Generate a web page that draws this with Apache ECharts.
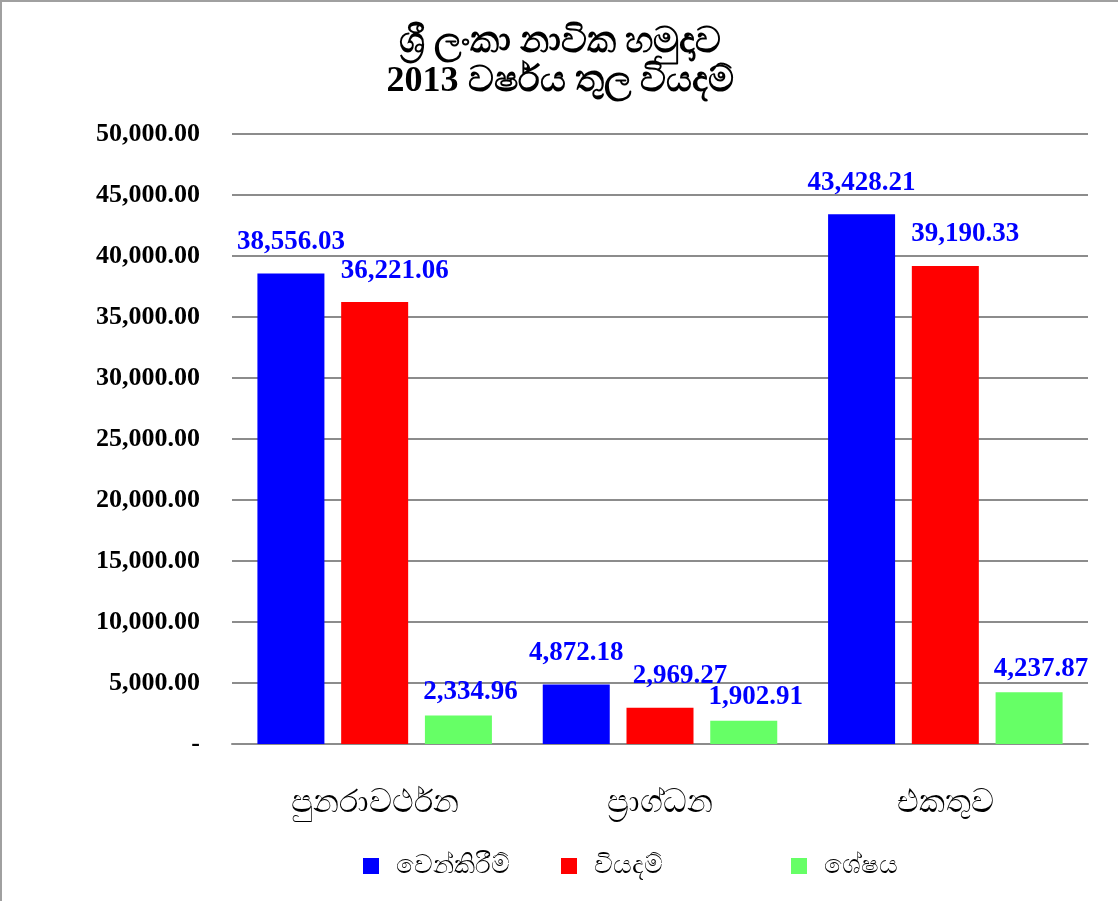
<!DOCTYPE html>
<html>
<head>
<meta charset="utf-8">
<script src="https://cdn.jsdelivr.net/npm/echarts@6/dist/echarts.min.js"></script>
<style>
  html, body { margin: 0; padding: 0; background: #fff; }
  #chart { width: 1118px; height: 901px; box-sizing: border-box; border-top: 2px solid #a0a0a0; border-left: 2px solid #a0a0a0; }
</style>
</head>
<body>
<div id="chart"></div>
<script>
// වර්ග
const categories = ["පුනරාවර්ථන", "ප්‍රාග්ධන", "එකතුව"];
// දත්ත
const allocation = [38556.03, 4872.18, 43428.21];
const expenditure = [36221.06, 2969.27, 39190.33];
const balance = [2334.96, 1902.91, 4237.87];
const seriesNames = ["වෙන්කිරීම්", "වියදම්", "ශේෂය"];
const seriesColors = ["#0000ff", "#ff0000", "#66ff66"];

const serif = "'Liberation Serif', 'Times New Roman', serif";

function fmt(v) {
  if (v === 0) return "-";
  return v.toLocaleString("en-US", { minimumFractionDigits: 2, maximumFractionDigits: 2 });
}

const chart = echarts.init(document.getElementById("chart"));

function makeSeries(name, data, color, shift) {
  return {
    name: name,
    type: "bar",
    data: data,
    barWidth: 67,
    barGap: "25%",
    itemStyle: { color: color },
    label: {
      show: true,
      position: "top",
      distance: 18,
      offset: shift,
      color: "#0000ff",
      fontFamily: serif,
      fontWeight: "bold",
      fontSize: 27,
      formatter: p => fmt(p.value)
    }
  };
}

const legendText = { fontFamily: serif, fontSize: 26, color: "#000", padding: [0, 0, 0, 12] };

chart.setOption({
  animation: false,
  title: {
    text: "ශ්‍රී ලංකා නාවික හමුදාව\n2013 වර්ෂය තුල වියදම්",
    left: "center",
    top: 16,
    textStyle: { fontFamily: serif, fontWeight: "bold", fontSize: 36, lineHeight: 39, color: "#000" }
  },
  legend: [
    { data: [seriesNames[0]], left: 356, top: 846, icon: "rect", itemWidth: 16, itemHeight: 16, textStyle: legendText },
    { data: [seriesNames[1]], left: 554, top: 846, icon: "rect", itemWidth: 16, itemHeight: 16, textStyle: legendText },
    { data: [seriesNames[2]], left: 784, top: 846, icon: "rect", itemWidth: 16, itemHeight: 16, textStyle: legendText }
  ],
  grid: { left: 230, right: 30, top: 132, bottom: 157 },
  xAxis: {
    type: "category",
    data: categories,
    axisLine: { lineStyle: { color: "#8c8c8c", width: 2 } },
    axisTick: { show: false },
    axisLabel: { margin: 44, fontFamily: serif, fontSize: 32, color: "#000" }
  },
  yAxis: {
    type: "value",
    min: 0,
    max: 50000,
    interval: 5000,
    axisLine: { show: false },
    axisTick: { show: false },
    splitLine: { lineStyle: { color: "#8c8c8c", width: 2 } },
    axisLabel: {
      margin: 32,
      fontFamily: serif,
      fontWeight: "bold",
      fontSize: 26,
      color: "#000",
      formatter: v => fmt(v)
    }
  },
  series: [
    makeSeries(seriesNames[0], allocation, seriesColors[0], [0, 0]),
    makeSeries(seriesNames[1], expenditure, seriesColors[1], [20, 0]),
    makeSeries(seriesNames[2], balance, seriesColors[2], [12, 8])
  ]
});
</script>
</body>
</html>
